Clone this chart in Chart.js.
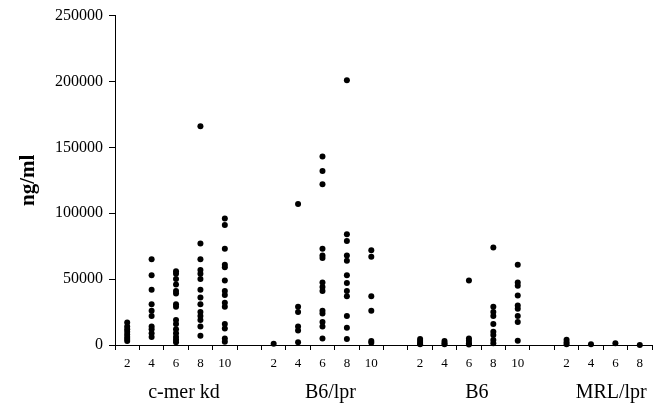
<!DOCTYPE html>
<html>
<head>
    <title>ng/ml by strain and week</title>
    <script src="https://cdn.jsdelivr.net/npm/chart.js"></script>
    <style>
        body { margin: 0; background: #fff; }
    </style>
</head>
<body>
    <canvas id="ngChart" width="660" height="407"></canvas>
    <script>
        // groups and weeks along the x axis (a blank slot between groups)
        const groups = ['c-mer kd', 'B6/lpr', 'B6', 'MRL/lpr'];
        const weeks = [['2', '4', '6', '8', '10'], ['2', '4', '6', '8', '10'], ['2', '4', '6', '8', '10'], ['2', '4', '6', '8']];
        const yTicks = [0, 50000, 100000, 150000, 200000, 250000];

        // values, one inner array per week
        const cmerKd = [
            [17000, 14000, 12000, 10000, 8000, 6000, 4500, 3000],
            [65000, 53000, 42000, 31000, 26000, 22000, 14000, 12000, 9000, 6000],
            [56000, 54000, 50000, 46000, 41000, 39000, 31000, 29000, 19000, 16000, 12000, 9000, 6000, 4000, 2000],
            [166000, 77000, 65000, 57000, 54000, 50000, 42000, 36000, 31000, 25000, 22000, 19000, 14000, 7000],
            [96000, 91000, 73000, 61000, 59000, 49000, 41000, 38000, 32000, 29000, 16000, 12500, 5000, 2500]
        ];
        const b6lpr = [
            [1000],
            [107000, 29000, 25000, 14000, 11000, 2000],
            [143000, 132000, 122000, 73000, 68000, 66000, 47500, 44000, 41000, 26000, 24000, 17500, 14000, 5000],
            [201000, 84000, 79000, 68000, 64000, 53000, 47000, 41000, 37000, 22000, 13000, 4500],
            [72000, 67000, 37000, 26000, 3000, 1800]
        ];
        const b6 = [
            [4500, 3000, 1500, 500],
            [3000, 1500, 500],
            [49000, 5000, 3300, 1300, 300],
            [74000, 29000, 25000, 22000, 16000, 10000, 7500, 3800, 1300],
            [61000, 47500, 45000, 37500, 30000, 27500, 22000, 17500, 3300]
        ];
        const mrlLpr = [
            [4000, 2000, 500],
            [500],
            [1300],
            [0]
        ];
        const groupValues = [cmerKd, b6lpr, b6, mrlLpr];

        // build slot ids and tick labels
        const slots = [];
        const tickLabels = [];
        groups.forEach((g, gi) => {
            weeks[gi].forEach(w => { slots.push(g + '|' + w); tickLabels.push(w); });
            if (gi < groups.length - 1) { slots.push('gap' + gi); tickLabels.push(''); }
        });

        const datasets = groups.map((g, gi) => {
            const pts = [];
            groupValues[gi].forEach((vals, wi) => {
                vals.forEach(v => pts.push({ x: g + '|' + weeks[gi][wi], y: v }));
            });
            return {
                label: g,
                data: pts,
                backgroundColor: '#000',
                borderColor: '#000',
                pointRadius: 3,
                pointBorderWidth: 0,
                clip: false
            };
        });

        const serif = "'Liberation Serif', 'DejaVu Serif', serif";

        const groupLabels = {
            id: 'groupLabels',
            afterDraw(chart) {
                const x = chart.scales.x;
                const ctx = chart.ctx;
                ctx.save();
                ctx.fillStyle = '#000';
                ctx.font = '20px ' + serif;
                ctx.textAlign = 'center';
                ctx.textBaseline = 'alphabetic';
                groups.forEach((g, gi) => {
                    const a = x.getPixelForValue(slots.indexOf(g + '|' + weeks[gi][0]));
                    const b = x.getPixelForValue(slots.indexOf(g + '|' + weeks[gi][weeks[gi].length - 1]));
                    ctx.fillText(g, (a + b) / 2 + 8, 398);
                });
                ctx.restore();
            }
        };

        new Chart(document.getElementById('ngChart').getContext('2d'), {
            type: 'scatter',
            data: { labels: slots, datasets: datasets },
            plugins: [groupLabels],
            options: {
                responsive: false,
                animation: false,
                layout: { padding: { top: 1, right: 8, left: 0, bottom: 0 } },
                plugins: { legend: { display: false }, tooltip: { enabled: false } },
                scales: {
                    x: {
                        type: 'category',
                        labels: slots,
                        offset: true,
                        grid: { offset: true, drawOnChartArea: false, drawTicks: true, tickLength: 5, color: '#000', lineWidth: 1 },
                        border: { color: '#000', width: 1 },
                        ticks: {
                            autoSkip: false,
                            maxRotation: 0,
                            color: '#000',
                            padding: 6,
                            font: { family: serif, size: 13 },
                            callback: (v, i) => tickLabels[i]
                        },
                        afterFit: s => { s.height = 62; }
                    },
                    y: {
                        min: 0,
                        max: 250000,
                        afterBuildTicks: s => { s.ticks = yTicks.map(v => ({ value: v })); },
                        grid: { drawOnChartArea: false, drawTicks: true, tickLength: 6, color: '#000' },
                        border: { color: '#000', width: 1 },
                        ticks: {
                            color: '#000',
                            padding: 6,
                            font: { family: serif, size: 16 },
                            callback: v => String(v)
                        },
                        title: {
                            display: true,
                            text: 'ng/ml',
                            color: '#000',
                            font: { family: serif, size: 21, weight: 'bold' },
                            padding: { top: 16, bottom: 0 }
                        },
                        afterFit: s => { s.width = 115; }
                    }
                }
            }
        });
    </script>
</body>
</html>
